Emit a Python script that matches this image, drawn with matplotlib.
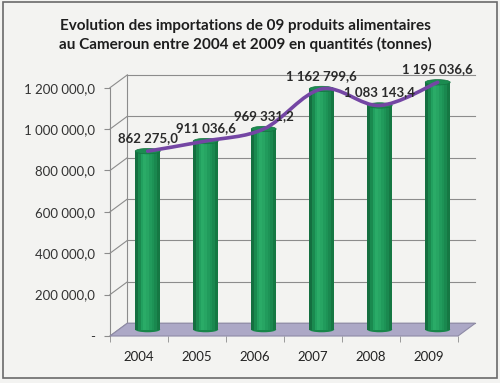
import matplotlib.pyplot as plt
from matplotlib.patches import Polygon, Ellipse, PathPatch, Rectangle
from matplotlib.path import Path

# donnees
annees = ['2004', '2005', '2006', '2007', '2008', '2009']
quantites = [862275.0, 911036.6, 969331.2, 1162799.6, 1083143.4, 1195036.6]
etiquettes = ['862 275,0', '911 036,6', '969 331,2', '1 162 799,6', '1 083 143,4', '1 195 036,6']
yticks = [0, 200000, 400000, 600000, 800000, 1000000, 1200000]
ytick_labels = ['-', '200 000,0', '400 000,0', '600 000,0', '800 000,0', '1 000 000,0', '1 200 000,0']

plt.rcParams['font.family'] = ['Lato', 'DejaVu Sans']

fig = plt.figure(figsize=(5, 3.83), dpi=100, facecolor='#f3f3f1')
ax = fig.add_axes([0.22, 0.1227, 0.696, 0.7024])
ax.set_facecolor('none')
ax.set_xlim(-0.5, 5.5)
ax.set_ylim(0, 1300000)
for s in ax.spines.values():
    s.set_visible(False)

# profondeur 3D (en unites de donnees)
dx, dy = 0.3, 62000
bdx, bdy = dx / 2, dy / 2
ymax = 1200000
gris = '#8c8c8c'

# mur du fond + quadrillage
for v in yticks:
    ax.plot([-0.5 + dx, 5.5 + dx], [v + dy, v + dy], color=gris, lw=0.8, zorder=1, clip_on=False)
    ax.plot([-0.5, -0.5 + dx], [v, v + dy], color=gris, lw=0.8, zorder=1, clip_on=False)
ax.plot([-0.5, -0.5], [0, ymax], color=gris, lw=0.8, zorder=1, clip_on=False)
ax.plot([-0.5 + dx, -0.5 + dx], [dy, ymax + dy], color=gris, lw=0.8, zorder=1, clip_on=False)

# sol
sol = Polygon([(-0.5, 0), (5.5, 0), (5.5 + dx, dy), (-0.5 + dx, dy)],
              closed=True, facecolor='#aca8c6', edgecolor='#8e8aa6', lw=0.8, zorder=2, clip_on=False)
ax.add_patch(sol)

# cylindres
largeur = 0.43
teintes = ['#146f40', '#1a8a4f', '#22a05f', '#2aab67', '#27a563', '#219b5c', '#1d9356', '#1a884f', '#157843']
n = len(teintes)
cap_h = 26000
for i, v in enumerate(quantites):
    xc = i + bdx
    for k, c in enumerate(teintes):
        xs = xc - largeur / 2 + (k + 0.5) * largeur / n
        ax.bar(xs, v, width=largeur / n + 0.005, bottom=bdy, color=c, lw=0, zorder=3)
    ax.add_patch(Ellipse((xc, bdy), largeur, cap_h, facecolor='#178549', lw=0, zorder=2.9))
    ax.add_patch(Ellipse((xc, v + bdy), largeur, cap_h, facecolor='#1b8c50', edgecolor='#137341', lw=0.5, zorder=4))

# courbe lissee passant par le sommet des cylindres
pts = [(i + bdx, v + bdy) for i, v in enumerate(quantites)]
verts = [pts[0]]
codes = [Path.MOVETO]
for i in range(len(pts) - 1):
    p0 = pts[i - 1] if i > 0 else pts[i]
    p1 = pts[i]
    p2 = pts[i + 1]
    p3 = pts[i + 2] if i + 2 < len(pts) else pts[i + 1]
    c1 = (p1[0] + (p2[0] - p0[0]) / 6, p1[1] + (p2[1] - p0[1]) / 6)
    c2 = (p2[0] - (p3[0] - p1[0]) / 6, p2[1] - (p3[1] - p1[1]) / 6)
    verts += [c1, c2, p2]
    codes += [Path.CURVE4] * 3
ax.add_patch(PathPatch(Path(verts, codes), facecolor='none', edgecolor='#7446a4', lw=2.6, zorder=5,
                       capstyle='round'))

for i, v in enumerate(quantites):
    ax.annotate(etiquettes[i], (i + bdx, v + bdy), xytext=(0, 5), textcoords='offset points',
                ha='center', va='bottom', fontsize=9.5, fontweight='bold', color='#2a2a2a', zorder=6)

# axes
ax.set_yticks(yticks)
ax.set_yticklabels(ytick_labels)
ax.set_xticks(range(len(annees)))
ax.set_xticklabels(annees)
ax.set_xticks([k - 0.5 for k in range(len(annees) + 1)], minor=True)
ax.tick_params(axis='y', length=4, color=gris, pad=7, labelsize=9.5, labelcolor='#333333')
ax.tick_params(axis='x', which='major', length=0, pad=11, labelsize=9.5, labelcolor='#222222')
ax.tick_params(axis='x', which='minor', length=4, color=gris)

fig.text(0.49, 0.908, 'Evolution des importations de 09 produits alimentaires\n'
         'au Cameroun entre 2004 et 2009 en quantités (tonnes)',
         ha='center', va='center', fontsize=11, fontweight='bold', color='#1e1e1e', linespacing=1.3)

fig.patches.append(Rectangle((0.006, 0.012), 0.988, 0.982, transform=fig.transFigure,
                             facecolor='none', edgecolor='#6a6a6a', lw=1.2))

fig.savefig('out.png', dpi=100, facecolor=fig.get_facecolor())
